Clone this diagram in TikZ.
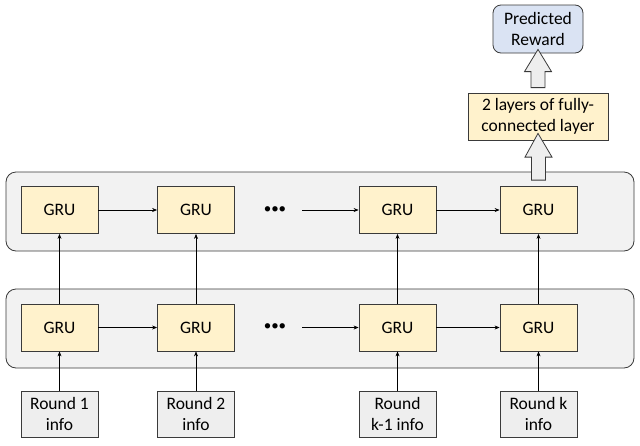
\documentclass[tikz,border=0pt]{standalone}
\usepackage{fontspec}
\setmainfont{Carlito}
\usetikzlibrary{arrows.meta,calc}
\definecolor{gruf}{HTML}{FFF2CC}
\definecolor{panelf}{HTML}{F2F2F2}
\definecolor{roundf}{HTML}{EEEEEE}
\definecolor{predf}{HTML}{DAE3F3}
\definecolor{edge}{HTML}{3A3A3A}
\tikzset{
  box/.style={draw=edge, line width=0.8pt, minimum width=77pt, minimum height=47pt, inner sep=0pt, align=center, font=\fontsize{17.5}{20.5}\selectfont},
  gru/.style={box, fill=gruf},
  roundbox/.style={box, fill=roundf, minimum height=46pt},
  panel/.style={draw=edge, line width=0.8pt, fill=panelf, rounded corners=10pt},
  conn/.style={draw=black, line width=0.6pt, -{Stealth[length=5pt,width=4pt]}},
  blockarrow/.style={draw=edge, line width=0.8pt, fill=roundf, line join=miter},
}
\begin{document}
\begin{tikzpicture}[x=1pt,y=-1pt]
\useasboundingbox (0,0) rectangle (640,445);
\fill[white] (0,0) rectangle (640,445);
% panels
\draw[panel] (6,172) rectangle (634,251);
\draw[panel] (6,289) rectangle (634,368);
% top GRUs
\node[gru] (t1) at (59.5,210) {GRU};
\node[gru] (t2) at (196,210) {GRU};
\node[gru] (t3) at (397.5,210) {GRU};
\node[gru] (t4) at (538.5,210) {GRU};
% bottom GRUs
\node[gru] (b1) at (59.5,327.5) {GRU};
\node[gru] (b2) at (196,327.5) {GRU};
\node[gru] (b3) at (397.5,327.5) {GRU};
\node[gru] (b4) at (538.5,327.5) {GRU};
% inputs
\node[roundbox] (r1) at (59.5,414) {Round 1\\info};
\node[roundbox] (r2) at (196,414) {Round 2\\info};
\node[roundbox] (r3) at (397.5,414) {Round\\k-1 info};
\node[roundbox] (r4) at (538.5,414) {Round k\\info};
% dots
\node[inner sep=0pt, font=\fontsize{15}{15}\selectfont] (td) at (275,210) {•••};
\node[inner sep=0pt, font=\fontsize{15}{15}\selectfont] (bd) at (275,327.5) {•••};
% FC and output
\node[box, fill=gruf, minimum width=140pt] (fc) at (538,116.5) {2 layers of fully-\\connected layer};
\node[box, fill=predf, rounded corners=8pt, minimum width=90pt, minimum height=48pt] (pr) at (538,29) {Predicted\\Reward};
% horizontal connectors
\draw[conn] (t1.east) -- (t2.west);
\draw[conn] ($(td.east)+(16,0)$) -- (t3.west);
\draw[conn] (t3.east) -- (t4.west);
\draw[conn] (b1.east) -- (b2.west);
\draw[conn] ($(bd.east)+(16,0)$) -- (b3.west);
\draw[conn] (b3.east) -- (b4.west);
% vertical connectors
\foreach \i in {1,2,3,4}{
  \draw[conn] (r\i.north) -- (b\i.south);
  \draw[conn] (b\i.north) -- (t\i.south);
}
% block arrows
\coordinate (a1) at ($(t4.north)+(0,-6)$);
\coordinate (a2) at ($(fc.south)+(0,-7)$);
\draw[blockarrow] ($(a1)+(-7,0)$) -- ($(a1)+(-7,-23)$) -- ($(a1)+(-13.5,-23)$) -- (a2) -- ($(a1)+(13.5,-23)$) -- ($(a1)+(7,-23)$) -- ($(a1)+(7,0)$) -- cycle;
\coordinate (c1) at ($(fc.north)+(0,-5)$);
\coordinate (c2) at ($(pr.south)+(0,-4)$);
\draw[blockarrow] ($(c1)+(-7,0)$) -- ($(c1)+(-7,-16)$) -- ($(c1)+(-13.5,-16)$) -- (c2) -- ($(c1)+(13.5,-16)$) -- ($(c1)+(7,-16)$) -- ($(c1)+(7,0)$) -- cycle;
\end{tikzpicture}
\end{document}
